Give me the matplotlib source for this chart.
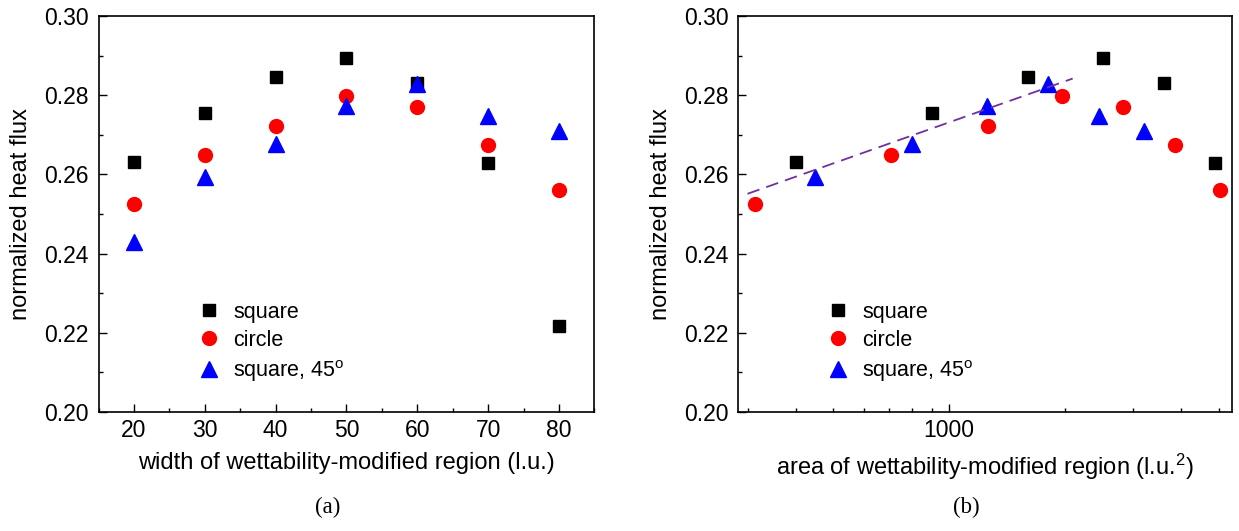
import matplotlib
matplotlib.use('Agg')
from matplotlib import pyplot as plt
from matplotlib.ticker import MultipleLocator, LogLocator, NullFormatter, FuncFormatter

plt.rcParams['font.family'] = ['Liberation Sans', 'DejaVu Sans']
plt.rcParams['mathtext.fontset'] = 'custom'
plt.rcParams['mathtext.rm'] = 'Liberation Sans'
plt.rcParams['mathtext.it'] = 'Liberation Sans:italic'

# widths (l.u.)
width = [20, 30, 40, 50, 60, 70, 80]
square_flux = [0.2631, 0.2755, 0.2846, 0.2893, 0.2831, 0.2630, 0.2218]
circle_flux = [0.2525, 0.2650, 0.2723, 0.2798, 0.2770, 0.2675, 0.2561]
square45_flux = [0.2430, 0.2593, 0.2678, 0.2772, 0.2827, 0.2747, 0.2709]

# areas (l.u.^2)
square_area = [400, 900, 1600, 2500, 3600, 4900, 6400]
circle_area = [314, 707, 1257, 1963, 2827, 3848, 5027]
square45_area = [200, 450, 800, 1250, 1800, 2450, 3200]

# dashed trend line in panel (b)
trend_x = [300, 2090]
trend_y = [0.2551, 0.2842]

fig = plt.figure(figsize=(12.39, 5.31), dpi=100)
ax1 = fig.add_axes([0.0795, 0.2241, 0.4003, 0.7458])
ax2 = fig.add_axes([0.5959, 0.2241, 0.3982, 0.7458])


def draw(ax, xs, leg_x):
    ax.plot(xs[0], square_flux, 's', color='black', ms=9, ls='none', label='square')
    ax.plot(xs[1], circle_flux, 'o', color='red', ms=10, ls='none', label='circle')
    ax.plot(xs[2], square45_flux, '^', color='blue', ms=11.5, ls='none',
            label=r'square, 45$^{\mathrm{o}}$')
    ax.set_ylim(0.20, 0.30)
    ax.yaxis.set_major_locator(MultipleLocator(0.02))
    ax.yaxis.set_minor_locator(MultipleLocator(0.01))
    ax.yaxis.set_major_formatter(FuncFormatter(lambda v, p: '%.2f' % v))
    ax.tick_params(which='both', direction='in', labelsize=16.5, top=False, right=False)
    ax.tick_params(which='major', length=5.8, width=1)
    ax.tick_params(which='minor', length=2.8, width=1)
    ax.tick_params(axis='y', pad=7)
    ax.tick_params(axis='x', pad=5)
    for s in ax.spines.values():
        s.set_linewidth(1.2)
    ax.set_ylabel('normalized heat flux', fontsize=17)
    ax.yaxis.set_label_coords(-0.135, 0.5)
    ax.legend(loc='lower left', bbox_to_anchor=(leg_x, 0.05), frameon=False, fontsize=15.5,
              handlelength=1.0, handletextpad=0.62, labelspacing=0.33, borderaxespad=0)


draw(ax1, [width, width, width], 0.184)
ax1.set_xlim(15, 85)
ax1.xaxis.set_major_locator(MultipleLocator(10))
ax1.xaxis.set_minor_locator(MultipleLocator(5))
ax1.set_xlabel('width of wettability-modified region (l.u.)', fontsize=17, labelpad=7)

ax2.set_xscale('log')
draw(ax2, [square_area, circle_area, square45_area], 0.163)
ax2.plot(trend_x, trend_y, color='#7030a0', lw=1.3, dashes=(7, 4))
ax2.set_xlim(284, 5400)
ax2.xaxis.set_major_locator(LogLocator(base=10))
ax2.xaxis.set_minor_locator(LogLocator(base=10, subs=range(2, 10)))
ax2.xaxis.set_major_formatter(FuncFormatter(lambda v, p: '%d' % v))
ax2.xaxis.set_minor_formatter(NullFormatter())
ax2.set_xlabel(r'area of wettability-modified region (l.u.$^{2}$)', fontsize=17, labelpad=7)

fig.text(0.2643, 0.045, '(a)', fontsize=16.5, family='Liberation Serif', ha='center', va='center')
fig.text(0.7797, 0.045, '(b)', fontsize=16.5, family='Liberation Serif', ha='center', va='center')

plt.savefig('out.png', dpi=100)
